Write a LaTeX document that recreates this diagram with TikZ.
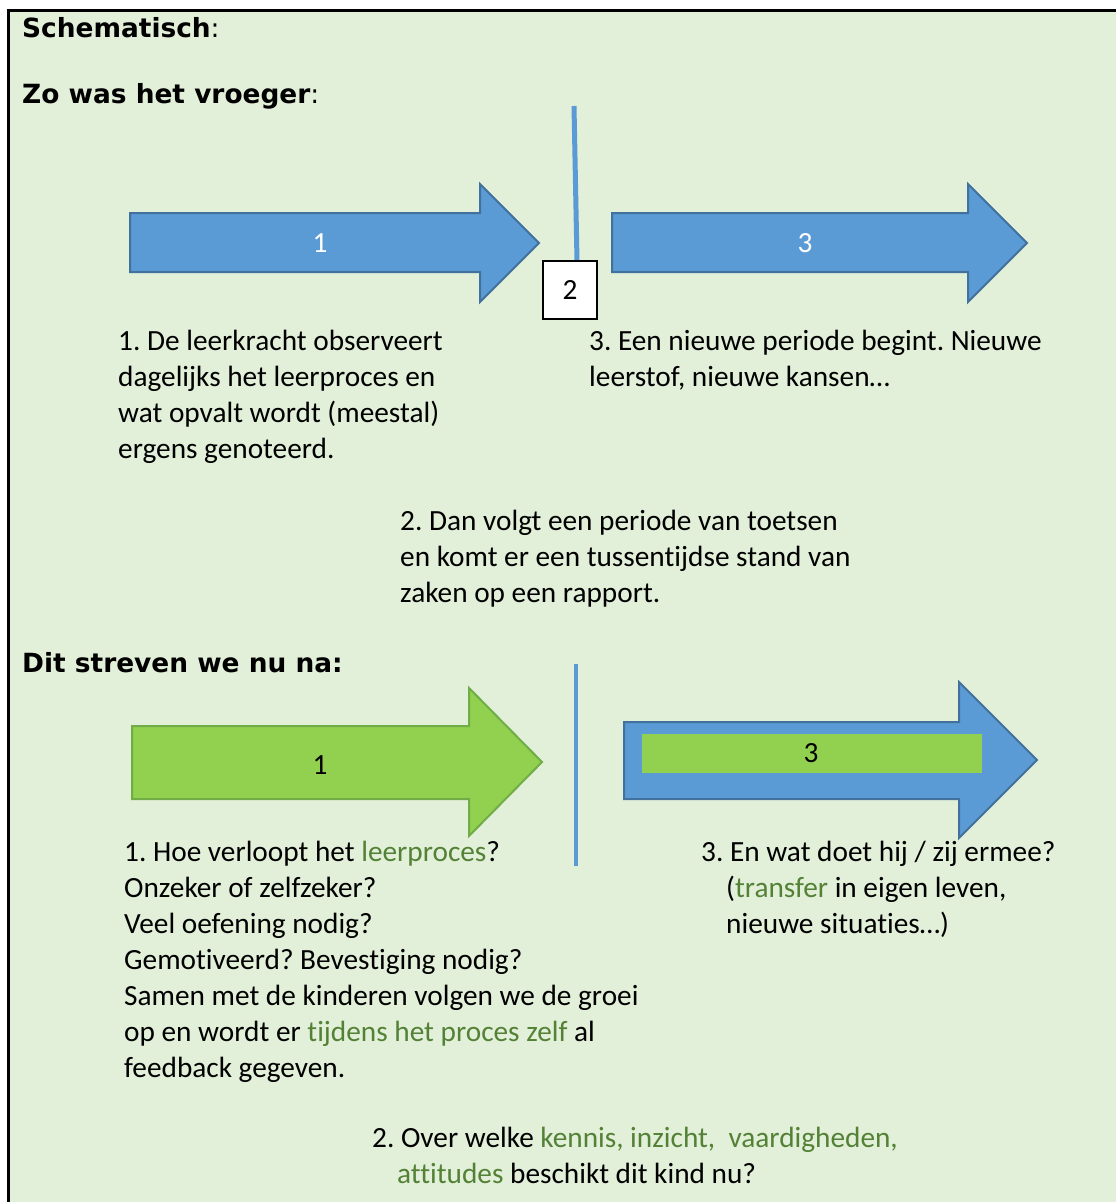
\documentclass[tikz,border=0pt]{standalone}
\usepackage{fontspec}
\setmainfont[Ligatures=NoCommon]{Carlito}
\newfontfamily\headfont{DejaVu Sans}
\definecolor{bgc}{HTML}{E2EFD9}
\definecolor{ablue}{HTML}{5B9BD5}
\definecolor{abluel}{HTML}{41719C}
\definecolor{agreen}{HTML}{92D050}
\definecolor{agreenl}{HTML}{70AD47}
\definecolor{tgreen}{HTML}{538135}
\newcommand{\gw}[1]{\textcolor{tgreen}{#1}}
\frenchspacing
\begin{document}
\frenchspacing
\begin{tikzpicture}[x=1pt,y=-1pt,
  body/.style={anchor=base west, inner sep=0pt, font=\fontsize{29.3}{36}\selectfont\frenchspacing},
  headtxt/.style={anchor=base west, inner sep=0pt, font=\headfont\fontsize{26.4}{32}\selectfont},
  numlbl/.style={inner sep=0pt, font=\fontsize{29.3}{36}\selectfont},
  bluearrow/.style={fill=ablue, draw=abluel, line width=2pt, line join=miter},
  greenarrow/.style={fill=agreen, draw=agreenl, line width=2pt, line join=miter},
  divider/.style={draw=ablue, line width=4.5pt}]
\useasboundingbox (0,0) rectangle (1116,1202);
% frame
\fill[bgc] (8,10) rectangle (1116,1202);
\draw[line width=3pt] (8,1202) -- (8,10) -- (1116,10);

% headings
\node[headtxt] (h0) at (22,37) {\textbf{Schematisch}:};
\node[headtxt] (h1) at (22,103) {\textbf{Zo was het vroeger}:};
\node[headtxt] (h2) at (22,672) {\textbf{Dit streven we nu na:}};

% ---- top part ----
\draw[bluearrow] (130,213) -- (480,213) -- (480,184) -- (539,243) -- (480,302) -- (480,272) -- (130,272) -- cycle;
\node[numlbl, text=white] (a1) at (320,243) {1};
\draw[bluearrow] (612,213) -- (968,213) -- (968,184) -- (1027,243) -- (968,302) -- (968,272) -- (612,272) -- cycle;
\node[numlbl, text=white] (a3) at (805,243) {3};

\coordinate (vt) at (574,106);
\coordinate (vb) at (577,261);
\draw[draw=ablue, line width=5pt] (vt) -- (vb);
\node[draw=black, fill=white, line width=1.2pt, minimum width=54pt, minimum height=58pt, inner sep=0pt, font=\fontsize{29.3}{36}\selectfont] (b2) at (570,290) {2};

\node[body] (t1a) at (118,350) {1. De leerkracht observeert};
\node[body] (t1b) at (118,386) {dagelijks het leerproces en};
\node[body] (t1c) at (118,422) {wat opvalt wordt (meestal)};
\node[body] (t1d) at (118,458) {ergens genoteerd.};

\node[body] (t3a) at (589,350) {3. Een nieuwe periode begint. Nieuwe};
\node[body] (t3b) at (589,386) {leerstof, nieuwe kansen…};

\node[body] (t2a) at (400,530) {2. Dan volgt een periode van toetsen};
\node[body] (t2b) at (400,566) {en komt er een tussentijdse stand van};
\node[body] (t2c) at (400,602) {zaken op een rapport.};

% ---- bottom part ----
\draw[greenarrow] (132,726) -- (469,726) -- (469,688) -- (542,762) -- (469,836) -- (469,799) -- (132,799) -- cycle;
\node[numlbl] (g1) at (320,765) {1};

\coordinate (v2t) at (576,664);
\coordinate (v2b) at (576,866);
\draw[divider] (v2t) -- (v2b);

\draw[bluearrow] (624,722) -- (959,722) -- (959,682) -- (1037,760) -- (959,838) -- (959,799) -- (624,799) -- cycle;
\fill[agreen] (642,734) rectangle (982,773);
\node[numlbl] (g3) at (811,753) {3};

\node[body] (u1a) at (124,861) {1. Hoe verloopt het \gw{leerproces}?};
\node[body] (u1b) at (124,897) {Onzeker of zelfzeker?};
\node[body] (u1c) at (124,933) {Veel oefening nodig?};
\node[body] (u1d) at (124,969) {Gemotiveerd? Bevestiging nodig?};
\node[body] (u1e) at (124,1005) {Samen met de kinderen volgen we de groei};
\node[body] (u1f) at (124,1041) {op en wordt er \gw{tijdens het proces zelf} al};
\node[body] (u1g) at (124,1077) {feedback gegeven.};

\node[body] (u3a) at (701,861) {3. En wat doet hij / zij ermee?};
\node[body] (u3b) at (726,897) {(\gw{transfer} in eigen leven,};
\node[body] (u3c) at (726,933) {nieuwe situaties…)};

\node[body] (u2a) at (372,1147) {2. Over welke \gw{kennis, inzicht,\ \ vaardigheden,}};
\node[body] (u2b) at (397,1183) {\gw{attitudes} beschikt dit kind nu?};
\end{tikzpicture}
\end{document}
